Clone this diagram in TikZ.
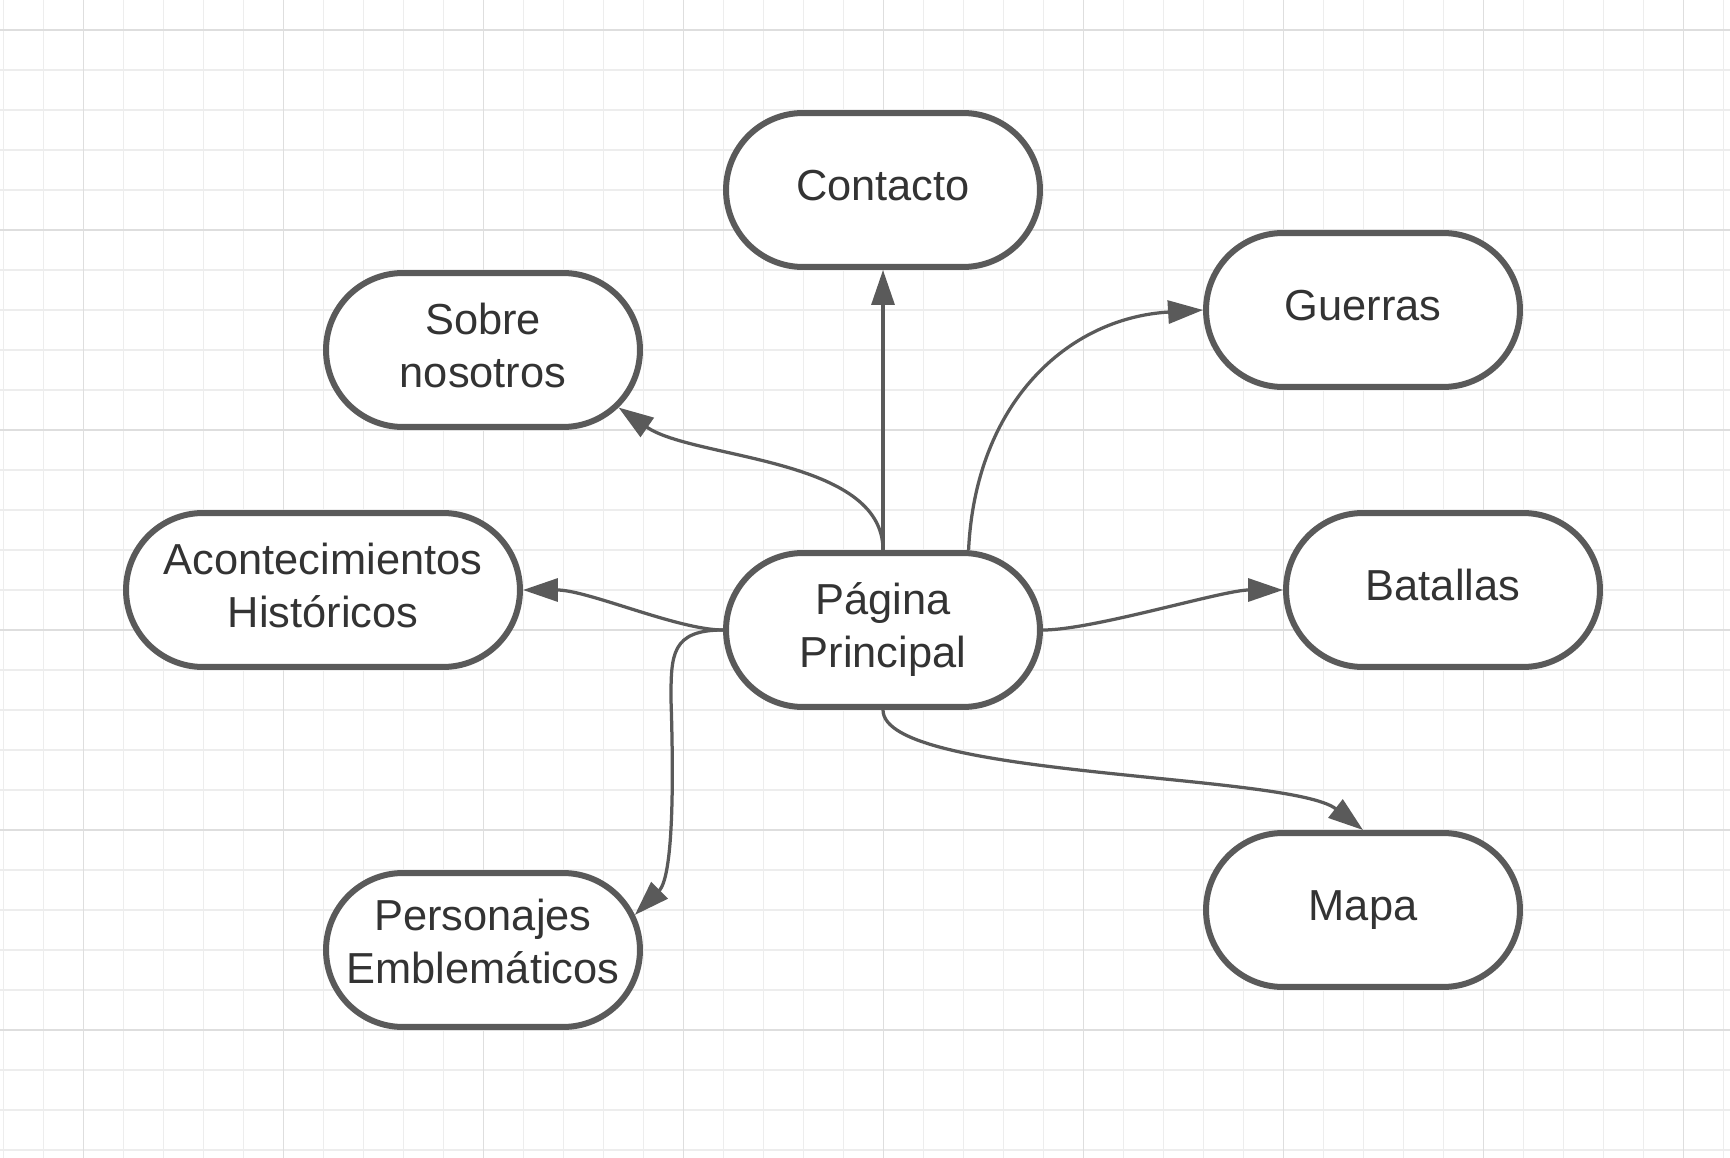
\documentclass[tikz,border=0pt]{standalone}
\usepackage{fontspec}
\setmainfont{Liberation Sans}
\usepackage{xcolor}
\usetikzlibrary{shapes.misc,arrows.meta}
\definecolor{edgegray}{HTML}{5A5A5A}
\definecolor{txtgray}{HTML}{333333}
\definecolor{gridminor}{HTML}{EDEDED}
\definecolor{gridmajor}{HTML}{DEDEDE}

\begin{document}
\begin{tikzpicture}[
  x=0.02cm, y=0.02cm,
  page/.style={rounded rectangle, draw=edgegray, line width=0.12cm, fill=white,
    minimum width=6.28cm, minimum height=3.08cm, inner sep=0pt,
    text depth=0.19cm,
    align=center, text=txtgray, font=\fontsize{24.7}{30.2}\selectfont},
  link/.style={-{Triangle[length=0.7cm, width=0.46cm]}, edgegray,
    line width=0.065cm},
  gridln/.style={line width=0.03cm}
]
% ---- background grid ----
\useasboundingbox (0,0) rectangle (1730,-1158);
\fill[white] (0,0) rectangle (1730,-1158);
\foreach \gx in {3.3,43.3,...,1730}
  \draw[gridln, gridminor] (\gx,0) -- (\gx,-1158);
\foreach \gy in {30,70,...,1158}
  \draw[gridln, gridminor] (0,-\gy) -- (1730,-\gy);
\foreach \gx in {83.3,283.3,...,1730}
  \draw[gridln, gridmajor] (\gx,0) -- (\gx,-1158);
\foreach \gy in {30,230,...,1158}
  \draw[gridln, gridmajor] (0,-\gy) -- (1730,-\gy);

% ---- pages ----
\node[page] (pp) at (883,-630) {Página\\Principal};
\node[page] (contacto) at (883,-190) {Contacto};
\node[page] (sobre) at (483,-350) {Sobre\\nosotros};
\node[page] (guerras) at (1363,-310) {Guerras};
\node[page, minimum width=7.88cm] (acon) at (323,-590)
  {Acontecimientos\\Históricos};
\node[page] (batallas) at (1443,-590) {Batallas};
\node[page, text depth=0.35cm] (personajes) at (483,-950)
  {Personajes\\Emblemáticos};
\node[page] (mapa) at (1363,-910) {Mapa};

% ---- links ----
\draw[link] (pp.north) -- (contacto.south);
\draw[link] (pp.north) .. controls +(0,93) and +(75,-52) .. (sobre.-23);
\draw[link] (pp.43) .. controls +(7,148) and +(-135,-8) .. (guerras.west);
\draw[link] (pp.west) .. controls +(-45,0) and +(65,0) .. (acon.east);
\draw[link] (pp.east) .. controls +(50,0) and +(-60,0) .. (batallas.west);
\draw[link] (pp.west) .. controls +(-52,0) and +(0,45) .. (671,-700)
  .. controls +(2,-60) and +(40,40) .. (personajes.13);
\draw[link] (pp.south) .. controls +(0,-68) and +(-73,57) .. (mapa.north);
\end{tikzpicture}
\end{document}
